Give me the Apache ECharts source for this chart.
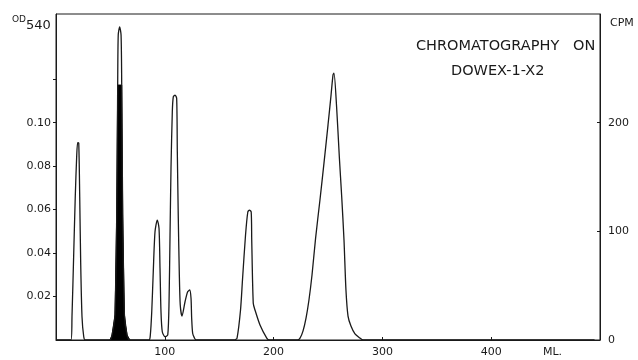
<!DOCTYPE html>
<html>
<head>
<meta charset="utf-8">
<script src="https://cdn.jsdelivr.net/npm/echarts@6/dist/echarts.min.js"></script>
<style>html,body{margin:0;padding:0;background:#fff}#c{width:638px;height:360px}</style>
</head>
<body>
<div id="c"></div>
<script>
// Elution volume (ML) and optical density (OD540) of the eluate
const odMl = [0, 13.8, 14.7, 16.3, 17.7, 19.0, 19.9, 20.9, 21.8, 22.7, 23.9, 25.5, 26.9,
  49.6, 51.5, 54.2, 55.8, 56.7, 57.2, 58.5, 59.8, 60.4, 61.3, 62.9, 65.3, 68,
  85.5, 86.7, 88.0, 89.4, 91.0, 93.1, 94.7, 95.6, 96.5, 97.7, 100.2, 102.7,
  103.9, 104.8, 105.7, 106.9, 107.8, 109.4, 110.9, 111.5, 112.4, 113.3, 114.2, 115.8,
  118.6, 121.0, 122.9, 124.1, 124.7, 125.6, 127.1, 128.7,
  164, 166.4, 169.6, 171.4, 174.2, 176.3, 177.8, 179.4, 179.9, 181.3, 182.9, 187.5, 193.7, 196,
  222, 224.3, 227.0, 229.8, 232.5, 235.3, 238.6, 242.6, 246.3, 250.0, 252.8, 254.6, 255.5,
  257.9, 260.4, 262.6, 264.7, 266.5, 268.4, 271.1, 274.8, 279.4, 282.2, 495];
const odValues = [0, 0, 0.0107, 0.040, 0.0659, 0.0843, 0.0908, 0.0906, 0.0659, 0.0354, 0.0107, 0.0015, 0,
  0, 0.0023, 0.0115, 0.0575, 0.1173, 0.1403, 0.1441, 0.1403, 0.1173, 0.0575, 0.0115, 0.0023, 0,
  0, 0.0023, 0.0130, 0.0314, 0.0498, 0.0552, 0.0513, 0.0330, 0.0130, 0.0038, 0.0015, 0.0023,
  0.0176, 0.0483, 0.0790, 0.1049, 0.1119, 0.1127, 0.1112, 0.0867, 0.0560, 0.0314, 0.0161, 0.0110,
  0.0176, 0.0222, 0.0230, 0.0192, 0.0100, 0.0031, 0.0011, 0,
  0, 0.0009, 0.0138, 0.0276, 0.0483, 0.0589, 0.0598, 0.0589, 0.046, 0.0169, 0.0138, 0.0069, 0.0009, 0,
  0, 0.0009, 0.0041, 0.0101, 0.0184, 0.0299, 0.0469, 0.0644, 0.0814, 0.0989, 0.1127, 0.1219, 0.1228,
  0.1073, 0.0843, 0.0659, 0.046, 0.023, 0.0110, 0.0064, 0.0028, 0.0009, 0, 0];
// Radioactivity (CPM) of the filled peak
const cpmMl = [49.6, 51.5, 54.2, 55.8, 56.7, 60.4, 61.3, 62.9, 65.3, 68];
const cpmValues = [0, 4.6, 23, 115, 234.6, 234.6, 115, 23, 4.6, 0];
// Tick labels
const xTickLabels = [100, 200, 300, 400];
const odTickLabels = [0.02, 0.04, 0.06, 0.08, 0.10];
const odTickMarks = [0.02, 0.04, 0.06, 0.08, 0.10, 0.12];
const cpmTickLabels = [0, 100, 200];

const FONT = 'DejaVu Sans';
const INK = '#1a1a1a';
const odData = odMl.map((x, i) => [x, odValues[i]]);
const cpmData = cpmMl.map((x, i) => [x, cpmValues[i]]);

const chart = echarts.init(document.getElementById('c'), null, {renderer: 'canvas'});
chart.setOption({
  animation: false,
  backgroundColor: '#fff',
  grid: {left: 56, top: 14, right: 38, bottom: 20, show: true, borderColor: INK, borderWidth: 1},
  xAxis: {
    type: 'value', min: 0, max: 500, interval: 100,
    axisLine: {show: true, lineStyle: {color: INK, width: 1}},
    axisTick: {show: true, inside: true, length: 3, customValues: xTickLabels, lineStyle: {color: INK}},
    axisLabel: {customValues: xTickLabels, color: INK, fontFamily: FONT, fontSize: 11, margin: 7},
    splitLine: {show: false}
  },
  yAxis: [{
    type: 'value', min: 0, max: 0.15, position: 'left',
    axisLine: {show: true, lineStyle: {color: INK, width: 1}},
    axisTick: {show: true, inside: false, length: 3, customValues: odTickMarks, lineStyle: {color: INK}},
    axisLabel: {customValues: odTickLabels, color: INK, fontFamily: FONT, fontSize: 11, margin: 5,
      formatter: v => v.toFixed(2)},
    splitLine: {show: false}
  }, {
    type: 'value', min: 0, max: 300, position: 'right',
    axisLine: {show: true, lineStyle: {color: INK, width: 1}},
    axisTick: {show: true, inside: true, length: 3, customValues: [100, 200], lineStyle: {color: INK}},
    axisLabel: {customValues: cpmTickLabels, color: INK, fontFamily: FONT, fontSize: 11, margin: 8},
    splitLine: {show: false}
  }],
  series: [{
    name: 'CPM', type: 'line', yAxisIndex: 1, data: cpmData, symbol: 'none', smooth: false,
    lineStyle: {color: '#000', width: 1}, areaStyle: {color: '#000', opacity: 1}, z: 2
  }, {
    name: 'OD540', type: 'line', yAxisIndex: 0, data: odData, symbol: 'none', smooth: 0.25,
    lineStyle: {color: INK, width: 1.3}, z: 3
  }],
  graphic: [
    {type: 'text', left: 12, top: 15, style: {
      text: '{a|OD}{b|540}', fill: INK,
      rich: {a: {fontFamily: FONT, fontSize: 9, verticalAlign: 'top', fill: INK},
             b: {fontFamily: FONT, fontSize: 13, fill: INK, padding: [4, 0, 0, 0]}}}},
    {type: 'text', left: 610, top: 18, style: {text: 'CPM', fill: INK, fontFamily: FONT, fontSize: 11}},
    {type: 'text', left: 543, top: 347, style: {text: 'ML.', fill: INK, fontFamily: FONT, fontSize: 11}},
    {type: 'text', left: 416, top: 39, style: {text: 'CHROMATOGRAPHY   ON', fill: INK, fontFamily: FONT, fontSize: 14.5}},
    {type: 'text', left: 451, top: 64, style: {text: 'DOWEX-1-X2', fill: INK, fontFamily: FONT, fontSize: 14.5}}
  ]
});
</script>
</body>
</html>
